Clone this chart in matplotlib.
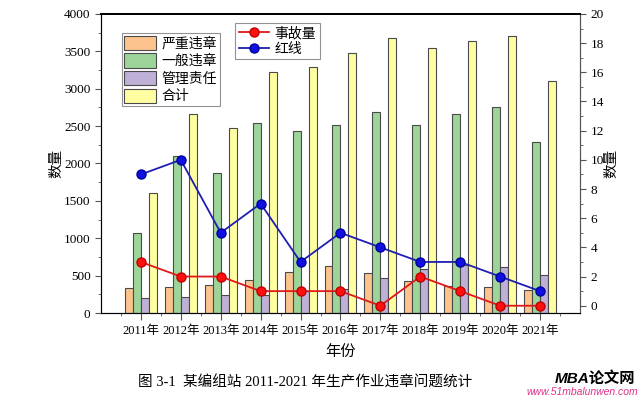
import matplotlib
matplotlib.use("Agg")
from matplotlib import pyplot as plt
import numpy as np

plt.rcParams['font.family'] = ['Liberation Serif', 'Noto Sans CJK SC', 'DejaVu Sans']

years = ["2011年", "2012年", "2013年", "2014年", "2015年", "2016年",
         "2017年", "2018年", "2019年", "2020年", "2021年"]
severe = [330, 345, 370, 435, 545, 635, 530, 432, 360, 348, 308]
general = [1065, 2105, 1870, 2535, 2435, 2520, 2685, 2520, 2660, 2750, 2285]
management = [200, 210, 235, 240, 300, 318, 468, 590, 642, 615, 508]
total = [1600, 2665, 2470, 3220, 3285, 3475, 3675, 3540, 3645, 3705, 3100]
accidents = [3, 2, 2, 1, 1, 1, 0, 2, 1, 0, 0]
redline = [9, 10, 5, 7, 3, 5, 4, 3, 3, 2, 1]

bar_names = ["严重违章", "一般违章", "管理责任", "合计"]
bar_colors = ["#FCC38F", "#9CD49A", "#BEB0D6", "#FFFFA2"]

fig = plt.figure(figsize=(6.43, 3.99), dpi=100)
ax = fig.add_axes([0.157, 0.2155, 0.745, 0.7495])
x = np.arange(len(years))
w = 0.2
series = [severe, general, management, total]
bars = []
for i, vals in enumerate(series):
    b = ax.bar(x + (i - 1.5) * w, vals, w, color=bar_colors[i],
               edgecolor="#4a4a4a", linewidth=0.8, label=bar_names[i])
    bars.append(b)

ax.set_xlim(-1, 11)
ax.set_ylim(0, 4000)
ax.set_xticks(x)
ax.set_xticklabels(years, fontsize=9)
ax.set_xticks(np.arange(-0.5, 11, 1), minor=True)
ax.set_yticks(np.arange(0, 4001, 500))
ax.set_yticks(np.arange(250, 4000, 500), minor=True)
ax.tick_params(axis='y', labelsize=9.5, length=4, color="#555555")
ax.tick_params(axis='y', which='minor', length=2.5, color="#555555")
ax.tick_params(axis='x', length=5, color="#555555")
ax.tick_params(axis='x', which='minor', length=2.5, color="#555555")
ax.set_xlabel("年份", fontsize=11, labelpad=6)
ax.set_ylabel("数量", fontsize=10.5, labelpad=0)
for s in ["left", "bottom", "right"]:
    ax.spines[s].set_color("#555555")
ax.spines["top"].set_linewidth(1.3)

ax2 = ax.twinx()
ax2.set_ylim(-0.5, 20)
ax2.plot(x, accidents, color="#E01818", lw=1.3, marker='o', ms=6.5,
         mfc="#FF1010", mec="#C00000", label="事故量")
ax2.plot(x, redline, color="#1E1EB0", lw=1.3, marker='o', ms=6.5,
         mfc="#1010E0", mec="#0000A0", label="红线")
ax2.set_yticks(np.arange(0, 21, 2))
ax2.set_yticks(np.arange(1, 20, 2), minor=True)
ax2.tick_params(axis='y', labelsize=9.5, length=4, color="#555555")
ax2.tick_params(axis='y', which='minor', length=2.5, color="#555555")
ax2.set_ylabel("数量", fontsize=10.5, labelpad=1)
ax2.spines["right"].set_color("#555555")
ax2.spines["top"].set_linewidth(1.3)

leg1 = ax2.legend(bars, bar_names, loc="upper left", bbox_to_anchor=(0.043, 0.936),
                  fontsize=10, frameon=True, fancybox=False, edgecolor="#777777",
                  handlelength=2.3, handleheight=1.2, labelspacing=0.2,
                  borderpad=0.2, handletextpad=0.4, borderaxespad=0)
leg1.get_frame().set_linewidth(0.8)
ax2.add_artist(leg1)
leg2 = ax2.legend(loc="upper left", bbox_to_anchor=(0.28, 0.97), fontsize=10,
                  frameon=True, fancybox=False, edgecolor="#777777",
                  handlelength=2.2, labelspacing=0.2, borderpad=0.25,
                  handletextpad=0.4, borderaxespad=0)
leg2.get_frame().set_linewidth(0.8)

fig.text(0.475, 0.04, "图 3-1  某编组站 2011-2021 年生产作业违章问题统计",
         ha="center", va="center", fontsize=10.5)
fig.text(0.925, 0.053, "MBA论文网", ha="center", va="center", fontsize=11,
         fontweight="bold", style="italic",
         family=['Liberation Sans', 'Noto Sans CJK SC'])
fig.text(0.905, 0.018, "www.51mbalunwen.com", ha="center", va="center", fontsize=7.5,
         style="italic", color="#E0308A", family=['Liberation Sans'])

fig.savefig("out.png", dpi=100)
